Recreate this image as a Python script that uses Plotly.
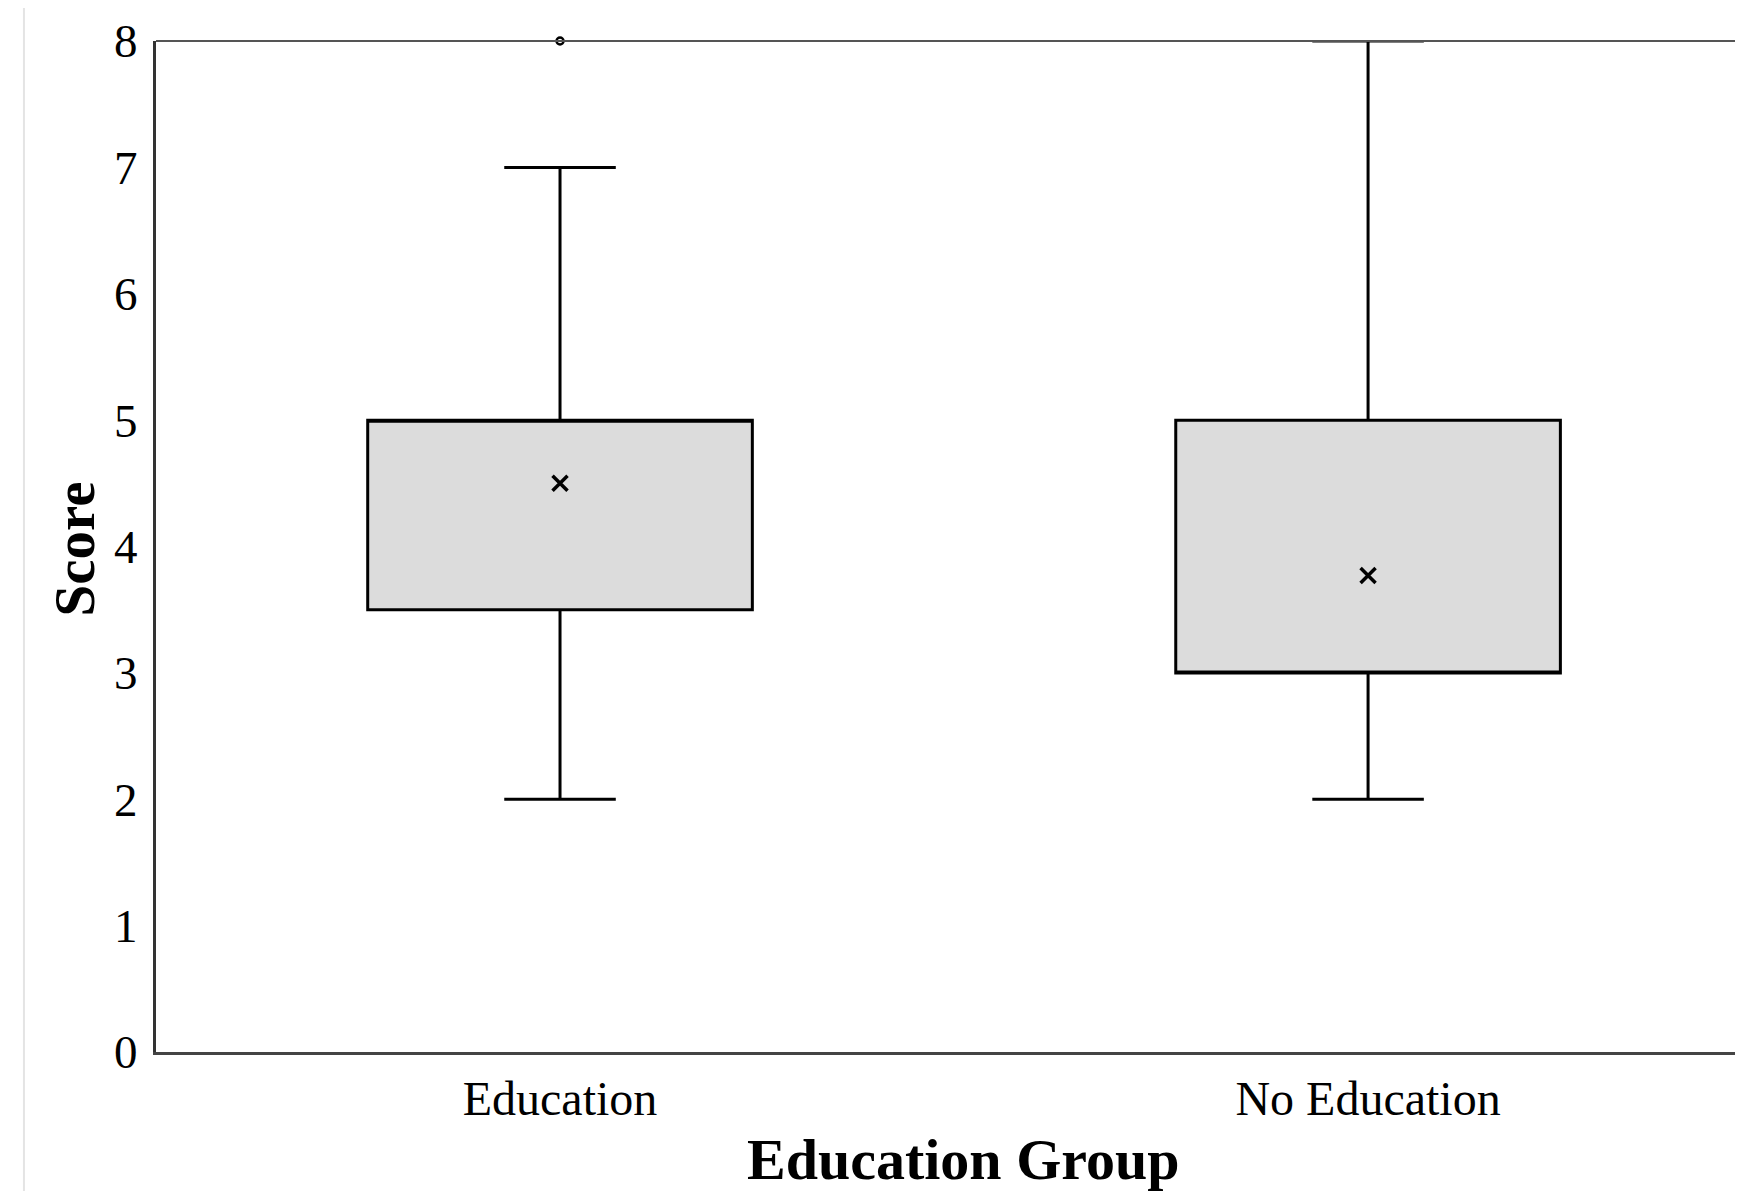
import plotly.graph_objects as go

# Data
categories = ["Education", "No Education"]
lower_whisker = [2, 2]
q1_values = [3.5, 3]
median_values = [5, 3]
q3_values = [5, 5]
upper_whisker = [7, 8]
mean_values = [4.5, 3.77]
outlier_x = ["Education"]
outlier_y = [8]
y_ticks = [0, 1, 2, 3, 4, 5, 6, 7, 8]

FONT = "Liberation Serif, Times New Roman, serif"

fig = go.Figure()

fig.add_trace(go.Box(
    x=categories,
    q1=q1_values,
    median=median_values,
    q3=q3_values,
    lowerfence=lower_whisker,
    upperfence=upper_whisker,
    fillcolor="#dcdcdc",
    line=dict(color="black", width=3),
    width=0.476,
    whiskerwidth=0.29,
    boxpoints=False,
    showlegend=False,
    hoverinfo="skip",
))

fig.add_trace(go.Scatter(
    x=categories, y=mean_values, mode="markers",
    marker=dict(symbol="x-thin", size=15, line=dict(color="black", width=3.5)),
    showlegend=False, cliponaxis=False,
))

fig.add_trace(go.Scatter(
    x=outlier_x, y=outlier_y, mode="markers",
    marker=dict(symbol="circle-open", size=7, color="black", line=dict(color="black", width=2.5)),
    showlegend=False, cliponaxis=False,
))

fig.update_layout(
    width=1735, height=1183,
    margin=dict(l=148, r=0, t=33, b=139),
    paper_bgcolor="white", plot_bgcolor="white",
    font=dict(family=FONT, color="black"),
    xaxis=dict(
        range=[-0.5, 1.464],
        showgrid=False, zeroline=False,
        showline=True, linecolor="#444", linewidth=3,
        ticks="", tickfont=dict(size=48, family=FONT),
        ticklabelstandoff=2,
    ),
    yaxis=dict(
        range=[0, 8],
        tickvals=y_ticks,
        showgrid=False, zeroline=False,
        showline=True, linecolor="#333", linewidth=3,
        ticks="", tickfont=dict(size=47, family=FONT),
        ticklabelstandoff=6,
    ),
    annotations=[
        dict(text="<b>Education Group</b>", xref="paper", yref="paper",
             x=0.5085, y=-0.106, xanchor="center", yanchor="middle",
             showarrow=False, font=dict(size=58, family=FONT, color="black")),
        dict(text="<b>Score</b>", xref="paper", yref="paper",
             x=-0.0514, y=0.4975, xanchor="center", yanchor="middle",
             textangle=-90, showarrow=False, font=dict(size=57, family=FONT, color="black")),
    ],
    shapes=[
        dict(type="line", xref="paper", yref="paper", x0=0, x1=1, y0=1, y1=1,
             line=dict(color="#555", width=2)),
        dict(type="line", xref="paper", yref="paper", x0=-0.0832, x1=-0.0832, y0=-0.2, y1=1.1,
             line=dict(color="#e4e4e4", width=2)),
    ],
)

fig.write_html("out.html")
